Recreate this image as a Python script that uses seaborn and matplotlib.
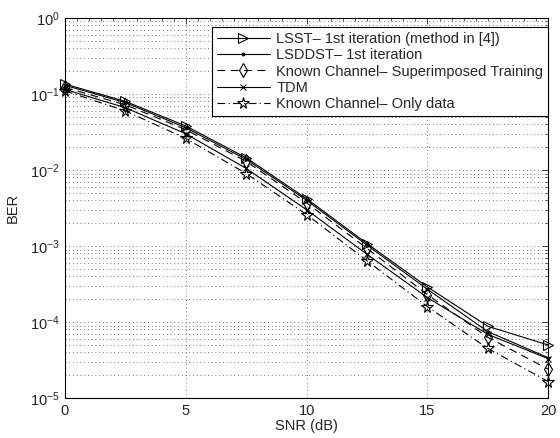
import numpy as np
import pandas as pd
import seaborn as sns
import matplotlib
matplotlib.use("Agg")
import matplotlib.pyplot as plt
from matplotlib.ticker import MultipleLocator, LogLocator, NullFormatter

# ============================
# DATA
# ============================
snr_db = [0, 2.5, 5, 7.5, 10, 12.5, 15, 17.5, 20]

ber_lsst = [0.135, 0.080, 0.038, 0.0145, 0.0042, 0.00108, 0.00029, 8.8e-5, 5.0e-5]
ber_lsddst = [0.130, 0.077, 0.036, 0.0138, 0.0040, 0.00103, 0.00027, 7.5e-5, 3.4e-5]
ber_known_st = [0.122, 0.072, 0.034, 0.0130, 0.0037, 0.00093, 0.00023, 6.3e-5, 2.4e-5]
ber_tdm = [0.115, 0.066, 0.030, 0.0105, 0.0030, 0.00078, 0.00021, 6.9e-5, 3.3e-5]
ber_known_data = [0.110, 0.060, 0.026, 0.0090, 0.0026, 0.00064, 0.00016, 4.5e-5, 1.65e-5]

labels = [
    "LSST\u2013 1st iteration (method in [4])",
    "LSDDST\u2013 1st iteration",
    "Known Channel\u2013 Superimposed Training",
    "TDM",
    "Known Channel\u2013 Only data",
]

# ============================
# STYLE
# ============================
sns.set_style("white")
plt.rcParams["font.family"] = ["Liberation Sans", "DejaVu Sans"]

series = [ber_lsst, ber_lsddst, ber_known_st, ber_tdm, ber_known_data]
styles = [
    dict(marker=">", linestyle="-", markersize=7, mfc="none"),
    dict(marker=".", linestyle="-", markersize=4),
    dict(marker="d", linestyle=(0, (7, 5)), markersize=7, mfc="none"),
    dict(marker="x", linestyle="-", markersize=5),
    dict(marker="*", linestyle=(0, (7, 3, 1, 3)), markersize=8.5, mfc="none"),
]

fig = plt.figure(figsize=(5.6, 4.38), dpi=100)
ax = fig.add_axes([0.116, 0.091, 0.863, 0.868])

for vals, lab, st in zip(series, labels, styles):
    df = pd.DataFrame({"snr": snr_db, "ber": vals})
    sns.lineplot(data=df, x="snr", y="ber", ax=ax, color="black", lw=0.8,
                 mec="black", mew=0.8, label=lab, clip_on=False, zorder=3, **st)

ax.set_yscale("log")
ax.set_xlim(0, 20)
ax.set_ylim(1e-5, 1)
ax.xaxis.set_major_locator(MultipleLocator(5))
ax.xaxis.set_minor_locator(MultipleLocator(0.5))
ax.yaxis.set_major_locator(LogLocator(base=10, numticks=10))
ax.yaxis.set_minor_locator(LogLocator(base=10, subs=np.arange(2, 10), numticks=10))
ax.yaxis.set_minor_formatter(NullFormatter())

grid_kw = dict(linestyle=(0, (1, 3.5)), color="0.3", lw=0.6)
ax.grid(True, which="major", axis="both", **grid_kw)
ax.grid(True, which="minor", axis="y", **grid_kw)
ax.tick_params(which="both", direction="in", top=True, right=True, labelsize=10.5)
ax.tick_params(which="major", length=4, width=0.6, pad=4)
ax.tick_params(which="minor", length=2, width=0.5)
for sp in ax.spines.values():
    sp.set_color("black")
    sp.set_linewidth(0.8)

ax.set_xlabel("SNR (dB)", fontsize=10.5, labelpad=1)
ax.set_ylabel("BER", fontsize=10.5, labelpad=7)

leg = ax.legend(loc="upper right", bbox_to_anchor=(1.0, 0.976), fontsize=10.5,
                frameon=True, fancybox=False, edgecolor="black", framealpha=1,
                borderpad=0.35, labelspacing=0.15, handlelength=3.6,
                handletextpad=0.45, borderaxespad=0.0)
leg.get_frame().set_linewidth(0.8)

fig.savefig("out.png", dpi=100)
